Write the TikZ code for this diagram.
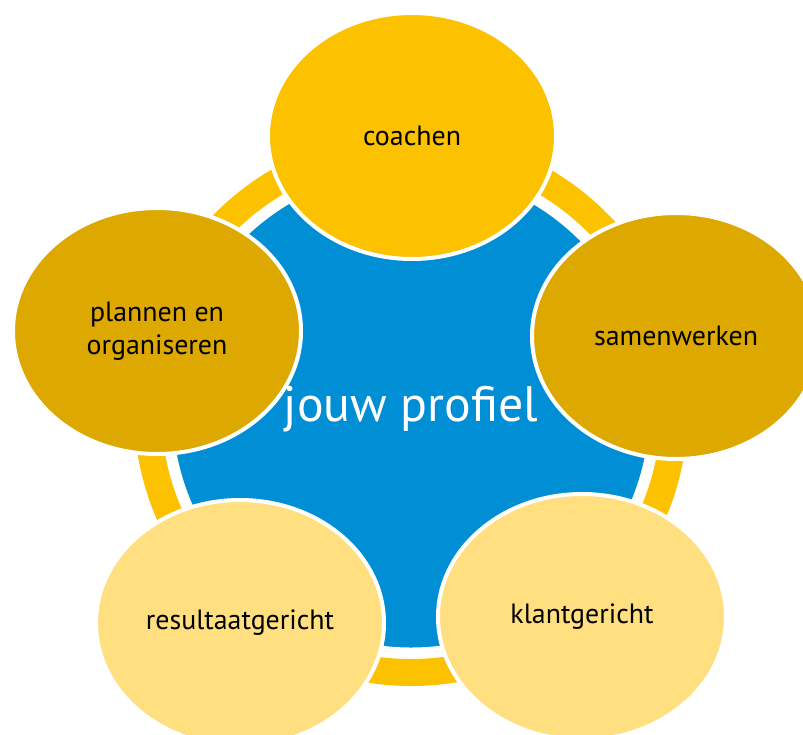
\documentclass[tikz,border=0pt]{standalone}
\usepackage{fontspec}
\setmainfont{PT Sans}
\usetikzlibrary{shapes.geometric}
\definecolor{ringyellow}{RGB}{252,194,0}
\definecolor{darkgold}{RGB}{221,169,0}
\definecolor{lightyellow}{RGB}{255,223,128}
\definecolor{profielblue}{RGB}{0,143,212}
\tikzset{
  skill/.style={ellipse, draw=white, line width=4bp, minimum width=288bp,
    minimum height=246bp, inner sep=0pt, align=center,
    font=\fontsize{28}{33}\selectfont, text=black},
  hub/.style={circle, fill=profielblue, draw=white, line width=3bp,
    minimum size=480bp, inner sep=0pt, text=white,
    font=\fontsize{50}{58}\selectfont}
}
\begin{document}
\begin{tikzpicture}[x=1bp, y=-1bp]
  \useasboundingbox (0,0) rectangle (803,735);
  \clip (0,0) rectangle (803,735);

  % yellow ring behind the centre
  \coordinate (mid) at (411,409);
  \fill [ringyellow, even odd rule] (mid) circle (277bp) circle (250bp);

  % centre circle
  \node [hub] (profiel) at (mid) {jouw profiel};

  % the five skills
  \node [skill, fill=ringyellow]  (coachen)     at (412,136) {coachen};
  \node [skill, fill=darkgold]    (samenwerken) at (676,336) {samenwerken};
  \node [skill, fill=lightyellow] (klant)       at (582,617) {klantgericht};
  \node [skill, fill=lightyellow] (resultaat)   at (240,623) {resultaatgericht};
  \node [skill, fill=darkgold]    (plannen)     at (157,331) {plannen en\\organiseren};
\end{tikzpicture}
\end{document}
